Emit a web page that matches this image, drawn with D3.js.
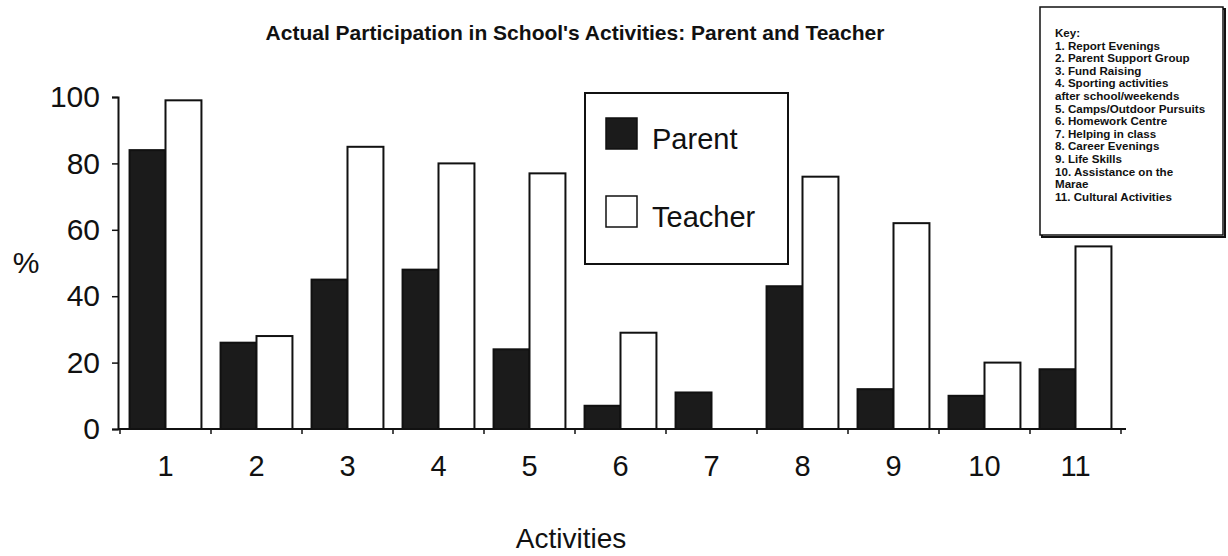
<!DOCTYPE html>
<html>
<head>
<meta charset="utf-8">
<script src="https://cdn.jsdelivr.net/npm/d3@7"></script>
<style>
  body { margin: 0; background: #fff; }
  svg { display: block; font-family: "Liberation Sans", Arial, Helvetica, sans-serif; }
</style>
</head>
<body>
<svg id="chart" width="1228" height="556"></svg>
<script>
var activities = ["1", "2", "3", "4", "5", "6", "7", "8", "9", "10", "11"],
    parentPct = [84, 26, 45, 48, 24, 7, 11, 43, 12, 10, 18],
    teacherPct = [99, 28, 85, 80, 77, 29, 0, 76, 62, 20, 55],
    yTicks = [0, 20, 40, 60, 80, 100],
    seriesNames = ["Parent", "Teacher"],
    keyLines = [
      "Key:",
      "1. Report Evenings",
      "2. Parent Support Group",
      "3. Fund Raising",
      "4. Sporting activities",
      "after school/weekends",
      "5. Camps/Outdoor Pursuits",
      "6. Homework Centre",
      "7. Helping in class",
      "8. Career Evenings",
      "9. Life Skills",
      "10. Assistance on the",
      "Marae",
      "11. Cultural Activities"
    ];

var svg = d3.select("#chart"),
    INK = "#111";

var x = d3.scaleBand()
      .domain(activities)
      .range([120, 1121])
      .paddingInner(0.21)
      .paddingOuter(0.105),
    xs = d3.scaleBand()
      .domain(seriesNames)
      .range([0, x.bandwidth()]),
    y = d3.scaleLinear()
      .domain([0, 100])
      .range([429, 97]);

var rows = activities.map(function (a, i) {
  return { act: a, vals: [parentPct[i], teacherPct[i]] };
});

// title
svg.append("text")
  .attr("x", 575).attr("y", 40)
  .attr("text-anchor", "middle")
  .style("font-size", "21px").style("font-weight", "bold")
  .attr("fill", INK)
  .text("Actual Participation in School's Activities: Parent and Teacher");

// bars
var grp = svg.selectAll("g.act").data(rows).enter()
  .append("g").attr("class", "act")
  .attr("transform", function (d) { return "translate(" + x(d.act) + ",0)"; });

grp.selectAll("rect").data(function (d) { return d.vals; }).enter()
  .append("rect")
  .attr("x", function (d, i) { return xs(seriesNames[i]); })
  .attr("y", function (d) { return y(d); })
  .attr("width", xs.bandwidth())
  .attr("height", function (d) { return y(0) - y(d); })
  .attr("fill", function (d, i) { return i === 0 ? "#1b1b1b" : "#fff"; })
  .attr("stroke", INK)
  .attr("stroke-width", 2);

// y axis
var yAxis = svg.append("g")
  .attr("transform", "translate(118,0)")
  .call(d3.axisLeft(y).tickValues(yTicks).tickSize(6).tickPadding(12));
yAxis.select(".domain").attr("stroke", INK).attr("stroke-width", 2);
yAxis.selectAll(".tick line").attr("stroke", INK).attr("stroke-width", 1.5);
yAxis.selectAll(".tick text")
  .attr("fill", INK)
  .style("font-size", "30px")
  .style("font-family", "\"Liberation Sans\", Arial, sans-serif");

// x axis: baseline with small ticks at the group boundaries
var bounds = activities.map(function (a) { return x(a) - x.step() * x.paddingOuter(); });
bounds.push(x.range()[1]);
svg.append("line")
  .attr("x1", 118).attr("x2", 1126)
  .attr("y1", y(0)).attr("y2", y(0))
  .attr("stroke", INK).attr("stroke-width", 2);
svg.selectAll("line.xtick").data(bounds).enter()
  .append("line").attr("class", "xtick")
  .attr("x1", function (d) { return d; }).attr("x2", function (d) { return d; })
  .attr("y1", y(0)).attr("y2", y(0) + 5)
  .attr("stroke", INK).attr("stroke-width", 1.5);

svg.selectAll("text.xlab").data(activities).enter()
  .append("text").attr("class", "xlab")
  .attr("x", function (d) { return x(d) + x.bandwidth() / 2; })
  .attr("y", 476)
  .attr("text-anchor", "middle")
  .attr("fill", INK)
  .style("font-size", "29px")
  .text(function (d) { return d; });

// axis titles
svg.append("text")
  .attr("x", 571).attr("y", 548)
  .attr("text-anchor", "middle")
  .attr("fill", INK)
  .style("font-size", "28px")
  .text("Activities");

svg.append("text")
  .attr("x", 26).attr("y", 273)
  .attr("text-anchor", "middle")
  .attr("fill", INK)
  .style("font-size", "30px")
  .text("%");

// legend
var legend = svg.append("g").attr("transform", "translate(585,93)");
legend.append("rect")
  .attr("width", 203).attr("height", 171)
  .attr("fill", "#fff").attr("stroke", INK).attr("stroke-width", 2);
var li = legend.selectAll("g.item").data(seriesNames).enter()
  .append("g").attr("class", "item")
  .attr("transform", function (d, i) { return "translate(21," + (25 + i * 78) + ")"; });
li.append("rect")
  .attr("width", 31).attr("height", 31)
  .attr("fill", function (d, i) { return i === 0 ? "#1b1b1b" : "#fff"; })
  .attr("stroke", INK).attr("stroke-width", 1.5);
li.append("text")
  .attr("x", 46).attr("y", 31)
  .attr("fill", INK)
  .style("font-size", "29px")
  .text(function (d) { return d; });

// key box
var key = svg.append("g").attr("transform", "translate(1040,7)");
key.append("rect")
  .attr("x", 2).attr("y", 2)
  .attr("width", 183).attr("height", 228)
  .attr("fill", "none").attr("stroke", INK).attr("stroke-width", 2);
key.append("rect")
  .attr("width", 183).attr("height", 228)
  .attr("fill", "#fff").attr("stroke", INK).attr("stroke-width", 1.5);
key.selectAll("text").data(keyLines).enter()
  .append("text")
  .attr("x", 15)
  .attr("y", function (d, i) { return 30 + i * 12.6; })
  .attr("fill", INK)
  .style("font-size", "11.6px").style("font-weight", "bold")
  .text(function (d) { return d; });
</script>
</body>
</html>
